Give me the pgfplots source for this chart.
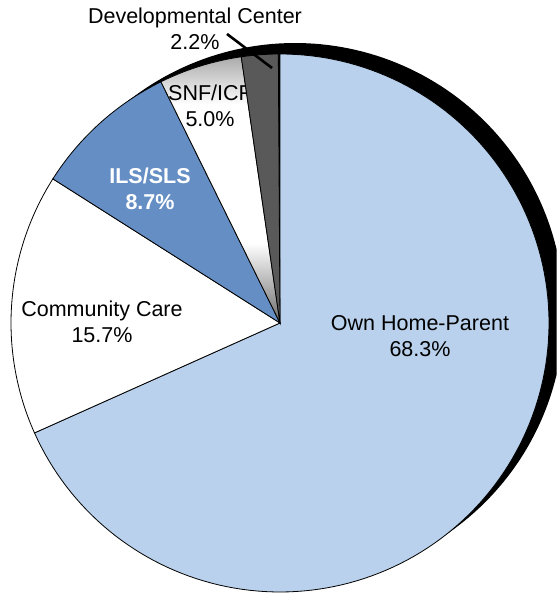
\documentclass[border=0pt]{standalone}
\usepackage{fontspec}
\setmainfont{Liberation Sans}
\usepackage{pgfplots}
\pgfplotsset{compat=1.18}
\usepackage{pgfplotstable}

\definecolor{ownblue}{HTML}{B9D1EC}
\definecolor{ilsblue}{HTML}{658FC4}
\definecolor{devgray}{HTML}{595959}

% vertical gradient of the SNF/ICF slice (25bp = bottom, 75bp = top of the path)
\pgfdeclareverticalshading{snf}{100bp}{color(0bp)=(black!58); color(25bp)=(black!58);
  color(40bp)=(white); color(66bp)=(white); color(75bp)=(black!33); color(100bp)=(black!33)}

% shares in percent, clockwise from 12 o'clock
\pgfplotstableread{
label share
own 68.3
cc 15.7
ils 8.7
snf 5.0
dc 2.2
}\shares
\pgfplotstablegetelem{0}{share}\of\shares \let\pA\pgfplotsretval
\pgfplotstablegetelem{1}{share}\of\shares \let\pB\pgfplotsretval
\pgfplotstablegetelem{2}{share}\of\shares \let\pC\pgfplotsretval
\pgfplotstablegetelem{3}{share}\of\shares \let\pD\pgfplotsretval
\pgfplotstablegetelem{4}{share}\of\shares \let\pE\pgfplotsretval
\pgfmathsetmacro\aA{90-3.6*\pA}
\pgfmathsetmacro\aB{\aA-3.6*\pB}
\pgfmathsetmacro\aC{\aB-3.6*\pC}
\pgfmathsetmacro\aD{\aC-3.6*\pD}
\pgfmathsetmacro\aE{\aD-3.6*\pE}

\tikzset{lbl/.style={font=\fontsize{21.5}{26}\selectfont, align=center, inner sep=0pt}}

\begin{document}%
\begin{tikzpicture}
\begin{axis}[
  width=558pt, height=594pt, scale only axis,
  xmin=0, xmax=558, ymin=0, ymax=594,
  axis lines=none, ticks=none, clip=true,
]
% shadow (cut at the right edge of the picture)
\addplot[draw=none, fill=black, domain=0:360, samples=240, restrict x to domain=0:558]
  ({295+269*cos(x)},{282+269*sin(x)}) -- cycle;
% slices
\addplot[fill=ownblue, draw=black, line width=0.8pt, domain=\aA:90, samples=150]
  ({280+269*cos(x)},{271+269*sin(x)}) -- (280,271) -- cycle;
\addplot[fill=white, draw=black, line width=0.8pt, domain=\aB:\aA, samples=60]
  ({280+269*cos(x)},{271+269*sin(x)}) -- (280,271) -- cycle;
\addplot[fill=ilsblue, draw=black, line width=0.8pt, domain=\aC:\aB, samples=40]
  ({280+269*cos(x)},{271+269*sin(x)}) -- (280,271) -- cycle;
\addplot[shade, shading=snf, draw=black, line width=0.8pt, domain=\aD:\aC, samples=30]
  ({280+269*cos(x)},{271+269*sin(x)}) -- (280,271) -- cycle;
\node[lbl] at (210,488) {SNF/ICF\\5.0\%};
\addplot[fill=devgray, draw=black, line width=0.8pt, domain=\aE:\aD, samples=20]
  ({280+269*cos(x)},{271+269*sin(x)}) -- (280,271) -- cycle;
% leader line
\addplot[black, line width=2.6pt] coordinates {(227,560) (272,526)};
% labels
\node[lbl] at (195,565) {Developmental Center\\2.2\%};
\node[lbl, text=white, font=\fontsize{21.5}{26}\selectfont\bfseries] at (150,405) {ILS/SLS\\8.7\%};
\node[lbl] at (102,272) {Community Care\\15.7\%};
\node[lbl] at (420,258) {Own Home-Parent\\68.3\%};
\end{axis}
\path (0,0) rectangle (558pt,594pt);
\end{tikzpicture}%
\end{document}
